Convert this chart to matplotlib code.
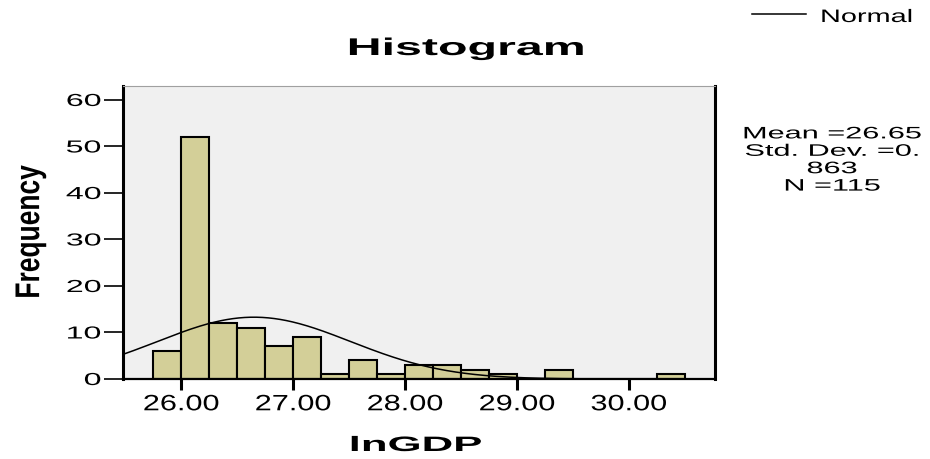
import numpy as np
import matplotlib
matplotlib.use('Agg')
import matplotlib.pyplot as plt
import matplotlib.patheffects as pe
from matplotlib.transforms import Affine2D
from matplotlib.lines import Line2D

# Data
bin_start = [25.75, 26.00, 26.25, 26.50, 26.75, 27.00, 27.25, 27.50, 27.75,
             28.00, 28.25, 28.50, 28.75, 29.00, 29.25, 29.50, 29.75, 30.00, 30.25]
counts = [6, 52, 12, 11, 7, 9, 1, 4, 1, 3, 3, 2, 1, 0, 2, 0, 0, 0, 1]
bin_width = 0.25
mean, std_dev, n_obs = 26.65, 0.863, 115
x_ticks = [26, 27, 28, 29, 30]
x_labels = ['26.00', '27.00', '28.00', '29.00', '30.00']
y_ticks = [0, 10, 20, 30, 40, 50, 60]


# SPSS output uses horizontally stretched fonts -> stretch glyphs around the anchor
class Wide(pe.AbstractPathEffect):
    def __init__(self, text, sx):
        super().__init__()
        self.text, self.sx = text, sx

    def draw_path(self, renderer, gc, tpath, affine, rgbFace=None):
        cx = self.text.get_transform().transform(self.text.get_unitless_position())[0]
        st = Affine2D().translate(-cx, 0).scale(self.sx, 1).translate(cx, 0)
        renderer.draw_path(gc, tpath, affine + st, rgbFace)


def widen(t, sx):
    t.set_path_effects([Wide(t, sx)])
    return t


plt.rcParams['font.family'] = ['Liberation Sans', 'DejaVu Sans']

fig = plt.figure(figsize=(9.3, 4.59), dpi=100)
ax = fig.add_axes([123 / 930, 1 - 379 / 459, (715 - 123) / 930, (379 - 86) / 459])
ax.set_facecolor('#f0f0f0')

ax.bar(bin_start, counts, width=bin_width, align='edge', color='#d3cf98',
       edgecolor='black', linewidth=1.5, zorder=2)

xs = np.linspace(25.48, 30.77, 400)
pdf = n_obs * bin_width / (std_dev * np.sqrt(2 * np.pi)) * np.exp(-0.5 * ((xs - mean) / std_dev) ** 2)
ax.plot(xs, pdf, color='black', linewidth=1.1, zorder=3)

ax.set_xlim(25.48, 30.77)
ax.set_ylim(0, 63)

ax.set_xticks(x_ticks, x_labels)
ax.set_yticks(y_ticks)
ax.tick_params(axis='x', length=8, width=2.2, pad=3, labelsize=16)
ax.tick_params(axis='y', length=13.5, width=1.2, pad=2, labelsize=12.5)
for lab in ax.get_xticklabels():
    widen(lab, 1.38)
for lab in ax.get_yticklabels():
    widen(lab, 1.85)

for s in ['left', 'right']:
    ax.spines[s].set_linewidth(2.2)
ax.spines['bottom'].set_linewidth(1.6)
ax.spines['top'].set_linewidth(0.8)
ax.spines['top'].set_color('#a0a0a0')

# Titles and labels
widen(fig.text(0.501, 1 - 55 / 459, 'Histogram', ha='center', va='baseline',
               fontsize=17.4, fontweight='bold'), 2.0)
widen(fig.text(415.5 / 930, 1 - 451 / 459, 'lnGDP', ha='center', va='baseline',
               fontsize=15, fontweight='bold'), 2.1)
widen(fig.text(30 / 930, 1 - 232 / 459, 'Frequency', ha='center', va='center',
               rotation=90, fontsize=19, fontweight='bold'), 1.3)

# Legend and statistics box
fig.add_artist(Line2D([752 / 930, 806 / 930], [1 - 14 / 459, 1 - 14 / 459],
                      color='black', linewidth=1.1))
widen(fig.text(820 / 930, 1 - 22 / 459, 'Normal', ha='left', va='baseline', fontsize=13), 1.6)
widen(fig.text(832 / 930, 1 - 160 / 459,
               f'Mean ={mean}\nStd. Dev. =0.\n{int(std_dev * 1000)}\nN ={n_obs}',
               ha='center', va='center', multialignment='center',
               fontsize=12, linespacing=1.2), 1.84)

fig.savefig('out.png', dpi=100)
